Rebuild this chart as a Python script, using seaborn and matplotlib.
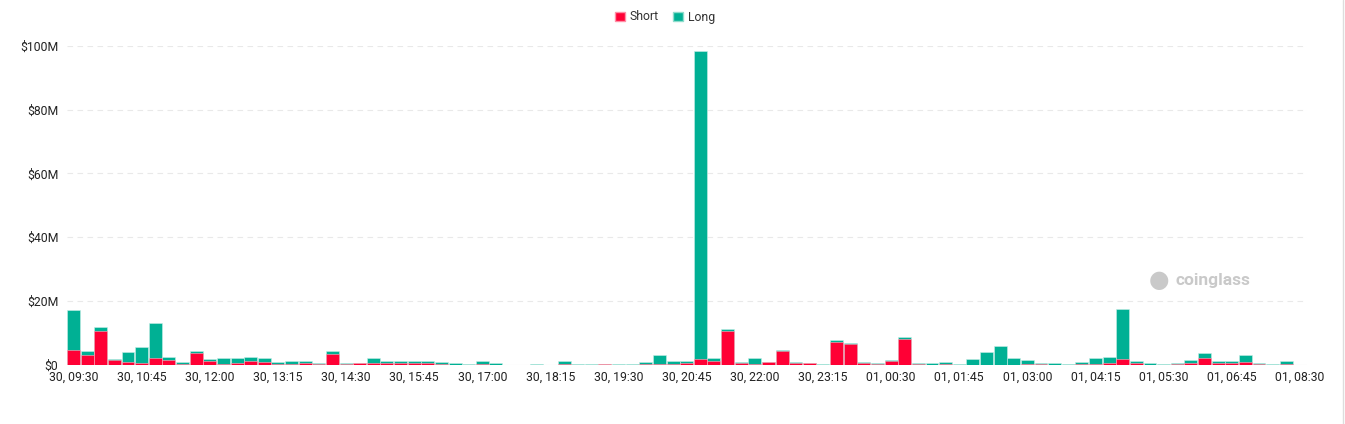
import pandas as pd
import matplotlib.pyplot as plt
from matplotlib.patches import Patch
from matplotlib.lines import Line2D
import seaborn as sns

# liquidation values in $M, one entry per 15 min slot (91 slots)
short_vals = [4.7, 3.0, 10.6, 1.7, 1.0, 0.6, 2.2, 1.6, 0.3, 3.9,
              1.4, 0.3, 0.5, 1.4, 0.9, 0.2, 0.4, 0.7, 0.2, 3.5,
              0.2, 0.5, 0.7, 0.6, 0.6, 0.6, 0.6, 0.2, 0.1, 0.1,
              0.2, 0.1, 0.1, 0.1, 0.1, 0.05, 0.2, 0.1, 0.1, 0.3,
              0.1, 0.1, 0.4, 0.3, 0.3, 0.7, 2.0, 1.1, 10.8, 0.6,
              0.3, 0.9, 4.4, 0.6, 0.5, 0.05, 7.2, 6.6, 0.6, 0.3,
              1.4, 8.2, 0.2, 0.1, 0.2, 0.05, 0.1, 0.1, 0.1, 0.1,
              0.2, 0.3, 0.1, 0.1, 0.2, 0.2, 0.6, 2.0, 0.6, 0.1,
              0.05, 0.3, 0.5, 2.2, 0.6, 0.5, 0.9, 0.3, 0.1, 0.2,
              0.0]
long_vals = [12.4, 1.4, 1.4, 0.3, 3.0, 5.0, 11.0, 0.8, 0.5, 0.6,
             0.4, 1.9, 1.7, 1.0, 1.4, 0.6, 0.9, 0.4, 0.4, 0.8,
             0.4, 0.1, 1.4, 0.5, 0.7, 0.5, 0.8, 0.6, 0.4, 0.2,
             0.9, 0.4, 0.05, 0.05, 0.3, 0.05, 1.0, 0.3, 0.2, 0.1,
             0.2, 0.2, 0.5, 2.8, 0.8, 0.7, 96.3, 1.2, 0.6, 0.2,
             1.8, 0.1, 0.2, 0.2, 0.1, 0.15, 0.5, 0.2, 0.2, 0.2,
             0.3, 0.5, 0.4, 0.5, 0.8, 0.2, 1.7, 4.0, 5.8, 2.1,
             1.3, 0.4, 0.5, 0.2, 0.7, 2.1, 1.9, 15.5, 0.7, 0.4,
             0.15, 0.4, 1.0, 1.7, 0.7, 0.8, 2.1, 0.2, 0.3, 0.9,
             0.0]
tick_labels = ['30, 09:30', '30, 10:45', '30, 12:00', '30, 13:15', '30, 14:30',
               '30, 15:45', '30, 17:00', '30, 18:15', '30, 19:30', '30, 20:45',
               '30, 22:00', '30, 23:15', '01, 00:30', '01, 01:45', '01, 03:00',
               '01, 04:15', '01, 05:30', '01, 06:45', '01, 08:30']
y_ticks = [0, 20, 40, 60, 80, 100]
y_labels = ['$0', '$20M', '$40M', '$60M', '$80M', '$100M']

RED = '#FF0035'
GREEN = '#00B094'

df = pd.DataFrame({'slot': range(len(short_vals)), 'short': short_vals, 'long': long_vals})
df['total'] = df['short'] + df['long']

sns.set_style('white')
plt.rcParams['font.family'] = ['Roboto', 'DejaVu Sans']

fig = plt.figure(figsize=(13.45, 4.24), dpi=100)
ax = fig.add_axes([66.7 / 1345, 1 - 365 / 424, 1240 / 1345, 319.3 / 424])

sns.barplot(data=df, x='slot', y='total', color=GREEN, width=0.95, saturation=1,
            edgecolor='#c8eee6', linewidth=0.4, ax=ax)
sns.barplot(data=df, x='slot', y='short', color=RED, width=0.95, saturation=1,
            edgecolor='#ffb3c2', linewidth=0.4, ax=ax)

ax.set_xlim(-0.5, len(df) - 0.5)
ax.set_ylim(0, 100)
ax.set_yticks(y_ticks)
ax.set_yticklabels(y_labels)
ax.set_xticks(range(0, len(df), 5))
ax.set_xticklabels(tick_labels)
ax.set_xlabel('')
ax.set_ylabel('')
ax.tick_params(axis='both', length=0, labelsize=8.8, colors='#222222')
ax.tick_params(axis='y', pad=6)
ax.tick_params(axis='x', pad=4)
for s in ax.spines.values():
    s.set_visible(False)
for y in y_ticks[1:]:
    ax.axhline(y, color='#e9e9e9', lw=0.8, ls=(0, (5, 4)), zorder=0)
ax.axhline(0, color='#e0e0e0', lw=0.8, zorder=0)

handles = [Patch(facecolor=RED, edgecolor='#ff8fa6', label='Short'),
           Patch(facecolor=GREEN, edgecolor='#8fdccc', label='Long')]
fig.legend(handles=handles, loc='center', bbox_to_anchor=(665 / 1345, 1 - 17 / 424),
           ncol=2, frameon=False, fontsize=8.8, handlelength=0.8, handleheight=0.8,
           handletextpad=0.4, columnspacing=1.2, labelcolor='#333333')

# watermark
fig.text(1175 / 1345, 1 - 281 / 424, 'coinglass', fontsize=12.5, fontweight='bold',
         color='#c9c9c9', ha='left', va='center')
fig.text(1159 / 1345, 1 - 281 / 424, '\u25cf', fontsize=17, color='#c9c9c9',
         ha='center', va='center')

# container border on the right
fig.add_artist(Line2D([1343 / 1345, 1343 / 1345], [0, 1], color='#dddddd', lw=1))

fig.savefig('out.png', dpi=100, facecolor='white')
